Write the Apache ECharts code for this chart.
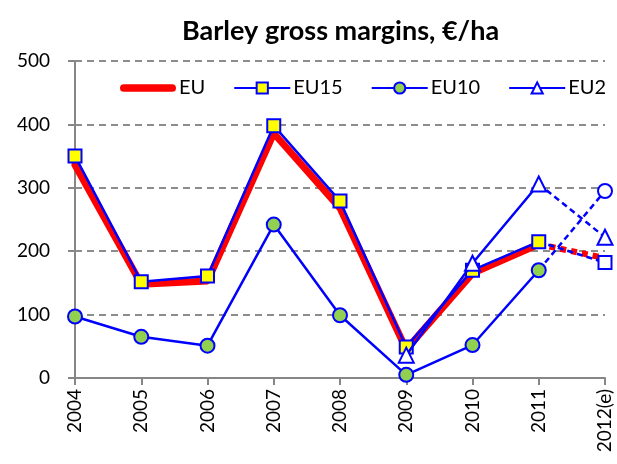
<!DOCTYPE html>
<html>
<head>
<meta charset="utf-8">
<script src="https://cdn.jsdelivr.net/npm/echarts@6/dist/echarts.min.js"></script>
<style>
  html, body { margin: 0; padding: 0; background: #fff; }
  #chart { width: 617px; height: 464px; }
</style>
</head>
<body>
<div id="chart"></div>
<script>
var years = ['2004', '2005', '2006', '2007', '2008', '2009', '2010', '2011', '2012(e)'];
var yTicks = [0, 100, 200, 300, 400, 500];
// 2004-2011 actual, 2012 estimate (drawn dashed)
var eu   = [336, 148, 153, 386, 268, 45, 165, 211, 189];
var eu15 = [350, 152, 161, 398, 279, 49, 170, 215, 182];
var eu10 = [97, 65, 51, 242, 99, 5, 52, 170, 295];
var eu2  = ['-', '-', '-', '-', '-', 36, 181, 306, 222];

var blue = '#0000ff';
var font = 'Lato, "Open Sans", sans-serif';

// solid part: everything up to 2011
function solid(arr) {
    return arr.map(function (v, i) { return i < arr.length - 1 ? v : '-'; });
}
// dashed part: 2011 -> 2012, no marker at 2011
function dashed(arr) {
    var n = arr.length;
    return arr.map(function (v, i) {
        if (i === n - 2) return { value: v, symbol: 'none' };
        if (i === n - 1) return v;
        return '-';
    });
}

var chart = echarts.init(document.getElementById('chart'));

var option = {
    backgroundColor: '#fff',
    animation: false,
    title: {
        text: 'Barley gross margins, €/ha',
        left: 177,
        top: 13,
        textStyle: { fontFamily: font, fontSize: 27, fontWeight: 'bold', color: '#000' }
    },
    legend: {
        data: [
            { name: 'EU', icon: 'path://M4,0 L54,0 A4,4 0 0 1 54,8 L4,8 A4,4 0 0 1 4,0 Z' },
            'EU15', 'EU10', 'EU2'
        ],
        left: 115,
        top: 73,
        itemWidth: 56,
        itemHeight: 14,
        itemGap: 28,
        textStyle: { fontFamily: font, fontSize: 20, color: '#000', padding: [0, 0, 0, -2] }
    },
    grid: { left: 75, right: 12, top: 61, bottom: 86, containLabel: false },
    xAxis: {
        type: 'category',
        data: years,
        boundaryGap: false,
        axisLine: { lineStyle: { color: '#868686', width: 2 } },
        axisTick: { show: true, alignWithLabel: true, length: 7, lineStyle: { color: '#868686', width: 2 } },
        axisLabel: { rotate: 90, fontFamily: font, fontSize: 19, color: '#000', margin: 11, interval: 0 },
        splitLine: { show: false }
    },
    yAxis: {
        type: 'value',
        min: yTicks[0],
        max: yTicks[yTicks.length - 1],
        interval: 100,
        axisLine: { show: true, lineStyle: { color: '#868686', width: 2 } },
        axisTick: { show: true, length: 7, lineStyle: { color: '#868686', width: 2 } },
        axisLabel: { fontFamily: font, fontSize: 19, color: '#000', margin: 25 },
        splitLine: { lineStyle: { color: '#8c8c8c', width: 2, type: [7, 5] } }
    },
    series: [
        {
            name: 'EU', type: 'line', data: solid(eu), symbol: 'none',
            lineStyle: { color: '#ff0000', width: 7, cap: 'round' },
            itemStyle: { color: '#ff0000' }, z: 2
        },
        {
            name: 'EU*', type: 'line', data: dashed(eu), symbol: 'none',
            lineStyle: { color: '#ff0000', width: 6, type: [6, 5] }, z: 2
        },
        {
            name: 'EU15', type: 'line', data: solid(eu15), symbol: 'rect', symbolSize: 13,
            lineStyle: { color: blue, width: 2.5 },
            itemStyle: { color: '#ffff00', borderColor: blue, borderWidth: 2 }, z: 3
        },
        {
            name: 'EU15*', type: 'line', data: dashed(eu15), symbol: 'rect', symbolSize: 13,
            lineStyle: { color: blue, width: 2.5, type: [6, 4] },
            itemStyle: { color: '#ffffff', borderColor: blue, borderWidth: 2 }, z: 3
        },
        {
            name: 'EU10', type: 'line', data: solid(eu10), symbol: 'circle', symbolSize: 14,
            lineStyle: { color: blue, width: 2.5 },
            itemStyle: { color: '#92d050', borderColor: blue, borderWidth: 2 }, z: 4
        },
        {
            name: 'EU10*', type: 'line', data: dashed(eu10), symbol: 'circle', symbolSize: 14,
            lineStyle: { color: blue, width: 2.5, type: [6, 4] },
            itemStyle: { color: '#ffffff', borderColor: blue, borderWidth: 2 }, z: 4
        },
        {
            name: 'EU2', type: 'line', data: solid(eu2), symbol: 'triangle', symbolSize: 15,
            lineStyle: { color: blue, width: 2.5 },
            itemStyle: { color: '#ffffff', borderColor: blue, borderWidth: 2 }, z: 5
        },
        {
            name: 'EU2*', type: 'line', data: dashed(eu2), symbol: 'triangle', symbolSize: 15,
            lineStyle: { color: blue, width: 2.5, type: [6, 4] },
            itemStyle: { color: '#ffffff', borderColor: blue, borderWidth: 2 }, z: 5
        }
    ]
};
chart.setOption(option);
</script>
</body>
</html>
